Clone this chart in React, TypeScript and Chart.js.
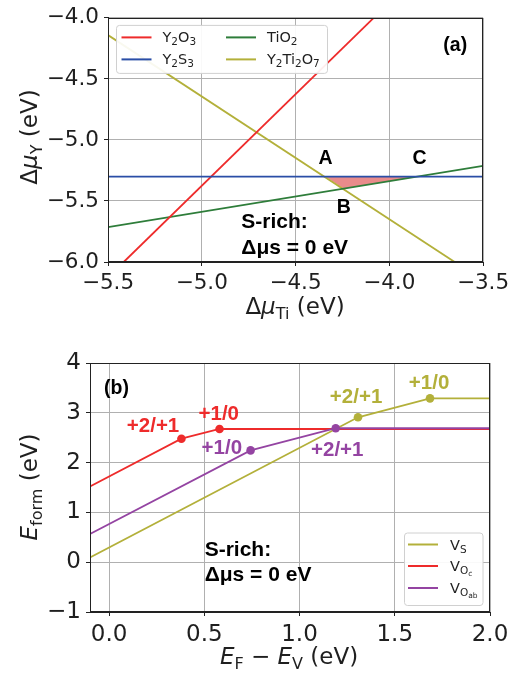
import React, { useEffect, useRef } from 'react';
import { Chart, registerables } from 'chart.js';

Chart.register(...registerables);

// ---------------- Panel (a) data ----------------
const A_X_TICKS = [-5.5, -5.0, -4.5, -4.0, -3.5];
const A_Y_TICKS = [-6.0, -5.5, -5.0, -4.5, -4.0];

const Y2O3_X = [-5.416, -4.083];
const Y2O3_Y = [-6.0, -4.0];
const Y2S3_X = [-5.5, -3.5];
const Y2S3_Y = [-5.3, -5.3];
const TIO2_X = [-5.5, -3.5];
const TIO2_Y = [-5.714, -5.213];
const Y2TI2O7_X = [-5.5, -3.651];
const Y2TI2O7_Y = [-4.141, -6.0];
const REGION_X = [-4.341, -4.242, -3.847];
const REGION_Y = [-5.3, -5.399, -5.3];
const REGION_BASE = -5.3;

const A_POINT_TEXT = ['A', 'B', 'C'];
const A_POINT_X = [-4.34, -4.242, -3.838];
const A_POINT_Y = [-5.138, -5.54, -5.138];
const A_NOTE_TEXT = ['S-rich:', 'Δμs = 0 eV'];
const A_NOTE_X = [-4.789, -4.789];
const A_NOTE_Y = [-5.662, -5.869];
const A_PANEL_TEXT = '(a)';
const A_PANEL_X = -3.648;
const A_PANEL_Y = -4.226;

// ---------------- Panel (b) data ----------------
const B_X_TICKS = [0.0, 0.5, 1.0, 1.5, 2.0];
const B_Y_TICKS = [-1, 0, 1, 2, 3, 4];

const VS_X = [-0.1, 1.307, 1.685, 2.0];
const VS_Y = [0.096, 2.91, 3.29, 3.29];
const VOC_X = [-0.1, 0.38, 0.58, 2.0];
const VOC_Y = [1.52, 2.48, 2.675, 2.675];
const VOAB_X = [-0.1, 0.743, 1.19, 2.0];
const VOAB_Y = [0.566, 2.245, 2.69, 2.69];

const VS_LABELS = ['+2/+1', '+1/0'];
const VS_LABEL_X = [1.297, 1.68];
const VS_LABEL_Y = [3.343, 3.631];
const VOC_LABELS = ['+2/+1', '+1/0'];
const VOC_LABEL_X = [0.231, 0.576];
const VOC_LABEL_Y = [2.761, 3.002];
const VOAB_LABELS = ['+1/0', '+2/+1'];
const VOAB_LABEL_X = [0.592, 1.198];
const VOAB_LABEL_Y = [2.325, 2.279];

const B_NOTE_TEXT = ['S-rich:', 'Δμs = 0 eV'];
const B_NOTE_X = [0.502, 0.502];
const B_NOTE_Y = [0.285, -0.235];
const B_PANEL_TEXT = '(b)';
const B_PANEL_X = 0.039;
const B_PANEL_Y = 3.478;

// ---------------- styles ----------------
const RED = '#ee2b2b';
const BLUE = '#2a4ea6';
const GREEN = '#2e7d3a';
const OLIVE = '#b3b03a';
const PURPLE = '#9444a2';
const FILL = '#e98b8b';
const TEXT = '#1f1f1f';
const GRID = '#b0b0b0';

const FONT = '"DejaVu Sans", sans-serif';
const FONT_BOLD = '"Liberation Sans", Arial, sans-serif';

type Seg = { t: string; size: number; dy?: number; italic?: boolean; bold?: boolean; fam?: string };

function segFont(s: Seg) {
  return `${s.italic ? 'italic ' : ''}${s.bold ? 'bold ' : ''}${s.size}px ${s.fam || FONT}`;
}

function drawRich(ctx: CanvasRenderingContext2D, segs: Seg[], x: number, y: number, align: 'left' | 'center', color: string, rot = 0) {
  ctx.save();
  ctx.translate(x, y);
  if (rot) ctx.rotate(rot);
  let w = 0;
  for (const s of segs) {
    ctx.font = segFont(s);
    w += ctx.measureText(s.t).width;
  }
  let cx = align === 'center' ? -w / 2 : 0;
  ctx.fillStyle = color;
  ctx.textBaseline = 'alphabetic';
  ctx.textAlign = 'left';
  for (const s of segs) {
    ctx.font = segFont(s);
    ctx.fillText(s.t, cx, s.dy || 0);
    cx += ctx.measureText(s.t).width;
  }
  ctx.restore();
}

function drawBoldText(chart: any, text: string, xv: number, yv: number, size: number, color: string, align: 'left' | 'center', capCenter = true) {
  const ctx = chart.ctx as CanvasRenderingContext2D;
  const px = chart.scales.x.getPixelForValue(xv);
  const py = chart.scales.y.getPixelForValue(yv);
  ctx.save();
  ctx.font = `bold ${size}px ${FONT_BOLD}`;
  ctx.fillStyle = color;
  ctx.textAlign = align;
  ctx.textBaseline = 'alphabetic';
  ctx.fillText(text, px, py + (capCenter ? 0.358 : 0.27) * size);
  ctx.restore();
}

function drawFrame(chart: any) {
  const { ctx, chartArea: a } = chart;
  ctx.save();
  ctx.strokeStyle = '#222';
  ctx.lineWidth = 1;
  ctx.strokeRect(Math.round(a.left) + 0.5, Math.round(a.top) + 0.5, Math.round(a.right - a.left) - 1, Math.round(a.bottom - a.top) - 1);
  ctx.restore();
}

function legendBox(ctx: CanvasRenderingContext2D, x: number, y: number, w: number, h: number) {
  ctx.save();
  ctx.beginPath();
  (ctx as any).roundRect(x + 0.5, y + 0.5, w, h, 3);
  ctx.fillStyle = 'rgba(255,255,255,0.92)';
  ctx.fill();
  ctx.strokeStyle = '#d0d0d0';
  ctx.lineWidth = 1;
  ctx.stroke();
  ctx.restore();
}

function legendLine(ctx: CanvasRenderingContext2D, x1: number, x2: number, y: number, color: string) {
  ctx.save();
  ctx.strokeStyle = color;
  ctx.lineWidth = 2;
  ctx.beginPath();
  ctx.moveTo(x1, y);
  ctx.lineTo(x2, y);
  ctx.stroke();
  ctx.restore();
}

const fmt1 = (v: number) => (v < 0 ? '\u2212' : '') + Math.abs(v).toFixed(1);
const fmt0 = (v: number) => (v < 0 ? '\u2212' : '') + Math.abs(v).toFixed(0);
const toXY = (xs: number[], ys: number[]) => xs.map((x, i) => ({ x, y: ys[i] }));

function lineDs(label: string, xs: number[], ys: number[], color: string, order: number, markers = false) {
  return {
    label,
    data: toXY(xs, ys),
    borderColor: color,
    backgroundColor: color,
    borderWidth: 1.8,
    pointRadius: markers ? (c: any) => (c.dataIndex > 0 && c.dataIndex < xs.length - 1 ? 4.3 : 0) : 0,
    pointBorderWidth: 0,
    fill: false,
    tension: 0,
    order,
  };
}

function scaleOpts(ticks: number[], fmt: (v: number) => string, size: number, fit: (s: any) => void, min: number, max: number) {
  return {
    type: 'linear',
    min,
    max,
    afterBuildTicks: (s: any) => {
      s.ticks = ticks.map((v) => ({ value: v }));
    },
    afterFit: fit,
    ticks: {
      callback: (v: any) => fmt(Number(v)),
      font: { family: FONT, size },
      color: TEXT,
      padding: 5,
      autoSkip: false,
      maxRotation: 0,
    },
    grid: { color: GRID, lineWidth: 1, tickLength: 4, tickColor: '#222', drawTicks: true },
    border: { display: true, color: '#222', width: 1 },
  };
}

function configA(): any {
  return {
    type: 'line',
    data: {
      datasets: [
        lineDs('Y2O3', Y2O3_X, Y2O3_Y, RED, 1),
        lineDs('Y2S3', Y2S3_X, Y2S3_Y, BLUE, 0),
        lineDs('TiO2', TIO2_X, TIO2_Y, GREEN, 2),
        lineDs('Y2Ti2O7', Y2TI2O7_X, Y2TI2O7_Y, OLIVE, 3),
        {
          label: 'region',
          data: toXY(REGION_X, REGION_Y),
          borderWidth: 0,
          borderColor: 'rgba(0,0,0,0)',
          backgroundColor: FILL,
          pointRadius: 0,
          fill: { value: REGION_BASE },
          order: 10,
        },
      ],
    },
    options: {
      responsive: false,
      animation: false,
      devicePixelRatio: 1,
      events: [],
      layout: { padding: { left: 0, right: 32, top: 12, bottom: 0 } },
      plugins: { legend: { display: false }, tooltip: { enabled: false }, title: { display: false } },
      scales: {
        x: scaleOpts(A_X_TICKS, fmt1, 21.5, (s: any) => { s.height = 68; }, -5.5, -3.5),
        y: scaleOpts(A_Y_TICKS, fmt1, 21.5, (s: any) => { s.width = 108; }, -6.0, -4.0),
      },
    },
    plugins: [
      {
        id: 'decorA',
        afterDatasetsDraw(chart: any) {
          const ctx = chart.ctx as CanvasRenderingContext2D;
          const a = chart.chartArea;
          // legend
          const lx = a.left + 8, ly = a.top + 7;
          legendBox(ctx, lx, ly, 211, 48);
          const rows = [a.top + 19.5, a.top + 41.5];
          const cols = [a.left + 13.5, a.left + 118];
          const items: { segs: Seg[]; color: string; c: number; r: number }[] = [
            { segs: [{ t: 'Y', size: 14.5 }, { t: '2', size: 10.5, dy: 3 }, { t: 'O', size: 14.5 }, { t: '3', size: 10.5, dy: 3 }], color: RED, c: 0, r: 0 },
            { segs: [{ t: 'Y', size: 14.5 }, { t: '2', size: 10.5, dy: 3 }, { t: 'S', size: 14.5 }, { t: '3', size: 10.5, dy: 3 }], color: BLUE, c: 0, r: 1 },
            { segs: [{ t: 'TiO', size: 14.5 }, { t: '2', size: 10.5, dy: 3 }], color: GREEN, c: 1, r: 0 },
            { segs: [{ t: 'Y', size: 14.5 }, { t: '2', size: 10.5, dy: 3 }, { t: 'Ti', size: 14.5 }, { t: '2', size: 10.5, dy: 3 }, { t: 'O', size: 14.5 }, { t: '7', size: 10.5, dy: 3 }], color: OLIVE, c: 1, r: 1 },
          ];
          for (const it of items) {
            const x0 = cols[it.c];
            const y0 = rows[it.r];
            legendLine(ctx, x0, x0 + 30, y0, it.color);
            drawRich(ctx, it.segs, x0 + 41, y0 + 5, 'left', TEXT);
          }
          // annotations
          for (let i = 0; i < A_POINT_TEXT.length; i++) drawBoldText(chart, A_POINT_TEXT[i], A_POINT_X[i], A_POINT_Y[i], 19.5, '#000', 'center');
          for (let i = 0; i < A_NOTE_TEXT.length; i++) drawBoldText(chart, A_NOTE_TEXT[i], A_NOTE_X[i], A_NOTE_Y[i], 21, '#000', 'left');
          drawBoldText(chart, A_PANEL_TEXT, A_PANEL_X, A_PANEL_Y, 19.5, '#000', 'center', false);
          drawFrame(chart);
        },
        afterDraw(chart: any) {
          const ctx = chart.ctx as CanvasRenderingContext2D;
          const a = chart.chartArea;
          drawRich(ctx, [
            { t: 'Δ', size: 23 }, { t: 'μ', size: 23, italic: true }, { t: 'Ti', size: 16, dy: 5 }, { t: ' (eV)', size: 23 },
          ], 295, 314, 'center', TEXT);
          drawRich(ctx, [
            { t: 'Δ', size: 23 }, { t: 'μ', size: 23, italic: true }, { t: 'Y', size: 16, dy: 5 }, { t: ' (eV)', size: 23 },
          ], 37, 137, 'center', TEXT, -Math.PI / 2);
        },
      },
    ],
  };
}

function configB(): any {
  return {
    type: 'line',
    data: {
      datasets: [
        lineDs('V_S', VS_X, VS_Y, OLIVE, 1, true),
        lineDs('V_Oc', VOC_X, VOC_Y, RED, 2, true),
        lineDs('V_Oab', VOAB_X, VOAB_Y, PURPLE, 0, true),
      ],
    },
    options: {
      responsive: false,
      animation: false,
      devicePixelRatio: 1,
      events: [],
      layout: { padding: { left: 0, right: 25, top: 33, bottom: 0 } },
      plugins: { legend: { display: false }, tooltip: { enabled: false }, title: { display: false } },
      scales: {
        x: scaleOpts(B_X_TICKS, fmt1, 23, (s: any) => { s.height = 63; }, -0.1, 2.0),
        y: scaleOpts(B_Y_TICKS, fmt0, 23, (s: any) => { s.width = 90; }, -1, 4),
      },
    },
    plugins: [
      {
        id: 'decorB',
        afterDatasetsDraw(chart: any) {
          const ctx = chart.ctx as CanvasRenderingContext2D;
          const a = chart.chartArea;
          // legend
          legendBox(ctx, a.right - 86, a.bottom - 79.5, 78.5, 72.5);
          const rowsY = [a.bottom - 67.5, a.bottom - 46, a.bottom - 24];
          const items: { segs: Seg[]; color: string }[] = [
            { segs: [{ t: 'V', size: 14.5 }, { t: 'S', size: 10.5, dy: 3 }], color: OLIVE },
            { segs: [{ t: 'V', size: 14.5 }, { t: 'O', size: 10.5, dy: 3 }, { t: 'c', size: 7.5, dy: 5 }], color: RED },
            { segs: [{ t: 'V', size: 14.5 }, { t: 'O', size: 10.5, dy: 3 }, { t: 'ab', size: 7.5, dy: 5 }], color: PURPLE },
          ];
          items.forEach((it, i) => {
            legendLine(ctx, a.right - 82, a.right - 52, rowsY[i], it.color);
            drawRich(ctx, it.segs, a.right - 40, rowsY[i] + 5, 'left', TEXT);
          });
          // transition labels
          const groups: [string[], number[], number[], string][] = [
            [VS_LABELS, VS_LABEL_X, VS_LABEL_Y, OLIVE],
            [VOC_LABELS, VOC_LABEL_X, VOC_LABEL_Y, RED],
            [VOAB_LABELS, VOAB_LABEL_X, VOAB_LABEL_Y, PURPLE],
          ];
          for (const [t, xs, ys, c] of groups) {
            for (let i = 0; i < t.length; i++) drawBoldText(chart, t[i], xs[i], ys[i], 20.5, c, 'center');
          }
          for (let i = 0; i < B_NOTE_TEXT.length; i++) drawBoldText(chart, B_NOTE_TEXT[i], B_NOTE_X[i], B_NOTE_Y[i], 21, '#000', 'left');
          drawBoldText(chart, B_PANEL_TEXT, B_PANEL_X, B_PANEL_Y, 19.5, '#000', 'center', false);
          drawFrame(chart);
        },
        afterDraw(chart: any) {
          const ctx = chart.ctx as CanvasRenderingContext2D;
          drawRich(ctx, [
            { t: 'E', size: 23, italic: true }, { t: 'F', size: 16, dy: 5 }, { t: ' \u2212 ', size: 23 },
            { t: 'E', size: 23, italic: true }, { t: 'V', size: 16, dy: 5 }, { t: ' (eV)', size: 23 },
          ], 289, 334, 'center', TEXT);
          drawRich(ctx, [
            { t: 'E', size: 23, italic: true }, { t: 'form', size: 16, dy: 5 }, { t: ' (eV)', size: 23 },
          ], 37, 157, 'center', TEXT, -Math.PI / 2);
        },
      },
    ],
  };
}

export default function App() {
  const refA = useRef<HTMLCanvasElement>(null);
  const refB = useRef<HTMLCanvasElement>(null);
  useEffect(() => {
    const ca = new Chart(refA.current as HTMLCanvasElement, configA());
    const cb = new Chart(refB.current as HTMLCanvasElement, configB());
    return () => {
      ca.destroy();
      cb.destroy();
    };
  }, []);
  return (
    <div style={{ position: 'fixed', left: 0, top: 0, width: 515, height: 675, background: '#fff' }}>
      <canvas ref={refA} width={515} height={330} style={{ position: 'absolute', left: 0, top: 0, width: 515, height: 330 }} />
      <canvas ref={refB} width={515} height={345} style={{ position: 'absolute', left: 0, top: 330, width: 515, height: 345 }} />
    </div>
  );
}
